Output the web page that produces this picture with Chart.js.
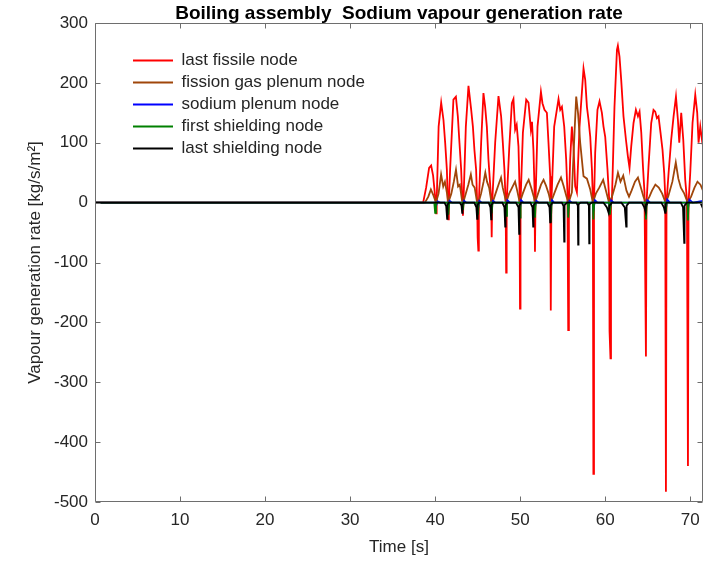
<!DOCTYPE html>
<html><head><meta charset="utf-8">
<script src="https://cdn.jsdelivr.net/npm/chart.js@4"></script>
<style>html,body{margin:0;padding:0;background:#fff}canvas{display:block}</style>
</head><body>
<canvas id="c" width="716" height="562"></canvas>
<script>
const chartTitle = 'Boiling assembly  Sodium vapour generation rate';
const xTitle = 'Time [s]';
const yTitle = 'Vapour generation rate [kg/s/m\u00B2]';
const seriesNames = ['last fissile node', 'fission gas plenum node', 'sodium plenum node', 'first shielding node', 'last shielding node'];
const seriesColors = ['#ff0000', 'rgb(160,70,10)', '#0000ff', '#008000', '#000000'];

const redTime = [0, 38.59, 38.94, 39.29, 39.53, 39.76, 40.00, 40.08, 40.12, 40.18,
  40.41, 40.71, 40.98, 41.18, 41.38, 41.49, 41.55, 41.61,
  41.76, 42.15, 42.44, 42.67, 42.86, 43.06, 43.21, 43.27, 43.33,
  43.61, 43.92, 44.24, 44.44, 44.62, 44.82, 44.94, 45.00, 45.08, 45.14,
  45.41, 45.68, 45.88, 46.08, 46.27, 46.59, 46.65, 46.71,
  47.06, 47.45, 47.76, 47.96, 48.15, 48.29, 48.35, 48.41,
  48.71, 49.02, 49.21, 49.41, 49.59, 49.80, 49.92, 49.98, 50.04,
  50.32, 50.71, 50.98, 51.26, 51.39, 51.56, 51.68, 51.74, 51.80,
  52.04, 52.44, 52.62, 52.86, 53.14, 53.33, 53.53, 53.60, 53.67,
  54.00, 54.51, 54.71, 54.91, 55.18, 55.41, 55.56, 55.65, 55.73,
  55.88, 56.08, 56.27, 56.47, 56.67,
  56.98, 57.45, 57.65, 57.85, 58.04, 58.24, 58.44, 58.55, 58.61, 58.68,
  58.82, 59.09, 59.33, 59.61, 59.80, 60.00, 60.27, 60.47, 60.51, 60.62, 60.68,
  60.79, 61.09, 61.38, 61.49, 61.68, 61.88, 62.15, 62.44, 62.67, 62.86, 63.06, 63.33, 63.61, 63.85, 64.04, 64.24, 64.44, 64.62, 64.79, 64.86,
  65.09, 65.41, 65.68, 65.88, 66.08, 66.27, 66.51, 66.74, 66.94, 67.06, 67.14, 67.21,
  67.45, 67.76, 68.04, 68.32, 68.55, 68.71, 68.94, 69.18, 69.41, 69.61, 69.73, 69.80,
  70.00, 70.27, 70.59, 70.82, 70.98, 71.18, 71.38, 71.56];
const redRate = [0, 0, 25, 58, 62, 45, 10, 0, -18, 0,
  127, 167, 138, 100, 55, 0, -28, 0,
  55, 172, 177, 144, 100, 55, 0, -22, 0,
  127, 195, 155, 127, 88, 55, 0, -58, -80, 0,
  100, 183, 160, 127, 72, 5, -58, 0,
  100, 178, 144, 100, 55, 0, -117, 0,
  90, 166, 173, 122, 130, 94, 27, -177, 0,
  117, 172, 167, 122, 135, 88, 27, -82, 0,
  127, 185, 166, 155, 150, 100, 44, -180, 0,
  127, 173, 155, 160, 127, 72, 17, -213, 0,
  72, 127, 94, 27, 17,
  127, 224, 205, 160, 138, 110, 55, 5, -453, 0,
  83, 155, 169, 150, 127, 110, 55, 5, -215, -260, 0,
  5, 160, 255, 262, 244, 205, 144, 105, 77, 58, 94, 133, 155, 144, 152, 117, 60, 17, -257, 0,
  60, 133, 155, 152, 141, 144, 116, 88, 49, 10, -483, 0,
  49, 105, 144, 177, 138, 100, 150, 105, 38, 5, -440, 0,
  50, 133, 180, 150, 100, 127, 105, 117];

const brownTime = [0, 38.8, 39.2, 39.5, 39.8, 40.1,
  40.4, 40.7, 40.95, 41.15, 41.4, 41.55,
  41.9, 42.2, 42.45, 42.7, 42.9, 43.15, 43.3,
  43.6, 43.9, 44.2, 44.4, 44.65, 44.9, 45.1,
  45.4, 45.7, 45.9, 46.1, 46.35, 46.6, 46.75,
  47.1, 47.45, 47.75, 47.95, 48.2, 48.35,
  48.7, 49.05, 49.4, 49.65, 49.95,
  50.3, 50.7, 51.0, 51.3, 51.6, 51.75,
  52.1, 52.45, 52.75, 53.05, 53.35, 53.6,
  54.0, 54.4, 54.8, 55.1, 55.45, 55.7,
  56.08, 56.4, 56.59, 56.8, 57.06, 57.45, 57.85, 58.24, 58.55,
  58.9, 59.3, 59.76, 60.0, 60.45,
  60.8, 61.2, 61.5, 61.8, 62.12, 62.5, 62.8, 63.1, 63.5, 63.85, 64.1, 64.5, 64.8,
  65.2, 65.5, 65.9, 66.3, 66.7, 67.1,
  67.4, 67.9, 68.3, 68.6, 68.9, 69.3, 69.7,
  70.1, 70.5, 70.85, 71.2, 71.5];
const brownRate = [0, 0, 10, 22, 12, 0,
  15, 47, 27, 35, 15, 0,
  15, 35, 55, 27, 30, 5, 0,
  15, 30, 47, 30, 25, 3, 0,
  15, 35, 50, 35, 25, 2, 0,
  15, 30, 42, 25, 10, 0,
  15, 25, 35, 20, 0,
  15, 30, 38, 25, 10, 0,
  15, 30, 38, 28, 15, 0,
  15, 30, 42, 28, 10, 0,
  17, 120, 177, 150, 100, 44, 40, 22, 0,
  15, 25, 38, 25, 0,
  10, 30, 50, 35, 45, 20, 10, 20, 35, 42, 30, 10, 0,
  10, 20, 30, 25, 15, 0,
  10, 35, 67, 40, 25, 15, 0,
  10, 25, 35, 30, 20];

const blueTime = [0, 40.0, 40.12, 40.3, 40.6,
  41.5, 41.55, 41.7, 42.0, 43.2, 43.27, 43.4, 43.7, 44.95, 45.05, 45.2, 45.5,
  46.6, 46.65, 46.8, 47.1, 48.3, 48.35, 48.5, 48.8, 49.95, 49.98, 50.1, 50.4,
  51.7, 51.74, 51.9, 52.2, 53.55, 53.6, 53.75, 54.0, 55.6, 55.65, 55.8, 56.1,
  58.55, 58.61, 58.8, 59.1, 60.45, 60.55, 60.7, 61.0, 64.75, 64.79, 64.95, 65.3,
  67.1, 67.14, 67.3, 67.6, 69.7, 69.73, 69.9, 70.3, 71.5];
const blueRate = [0, 0, -5, 2, 0,
  0, -8, 3, 0, 0, -6, 3, 0, 0, -10, 3, 0,
  0, -8, 3, 0, 0, -10, 4, 0, 0, -10, 4, 0,
  0, -8, 3, 0, 0, -10, 4, 0, 0, -10, 3, 0,
  0, -12, 4, 0, 0, -10, 4, 0, 0, -10, 4, 0,
  0, -10, 5, 0, 0, -10, 5, 0, 3];

const greenTime = [0, 39.9, 40.0, 40.1, 41.45, 41.55, 41.65, 43.2, 43.27, 43.35,
  44.95, 45.03, 45.12, 46.6, 46.65, 46.75, 48.3, 48.35, 48.45, 49.93, 49.98, 50.05,
  51.7, 51.74, 51.82, 53.55, 53.6, 53.7, 55.6, 55.65, 55.75, 58.55, 58.61, 58.7,
  60.45, 60.55, 60.68, 64.72, 64.79, 64.88, 67.08, 67.14, 67.22, 69.68, 69.73, 69.8, 71.5];
const greenRate = [0, 0, -17, 0, 0, -20, 0, 0, -12, 0,
  0, -20, 0, 0, -18, 0, 0, -22, 0, 0, -25, 0,
  0, -25, 0, 0, -33, 0, 0, -25, 0, 0, -28, 0,
  0, -20, 0, 0, -28, 0, 0, -15, 0, 0, -30, 0, 0];

const blackTime = [0,
  41.1, 41.3, 41.41, 41.45, 41.6,
  42.9, 43.1, 43.18, 43.22, 43.35,
  44.6, 44.85, 44.94, 44.99, 45.15,
  46.3, 46.5, 46.59, 46.63, 46.8,
  47.9, 48.15, 48.24, 48.28, 48.45,
  49.5, 49.8, 49.88, 49.92, 50.1,
  51.2, 51.45, 51.53, 51.57, 51.8,
  53.2, 53.45, 53.53, 53.58, 53.8,
  54.9, 55.1, 55.18, 55.22, 55.5,
  56.6, 56.78, 56.82, 56.86, 57.1,
  57.9, 58.08, 58.12, 58.16, 58.4,
  59.8, 60.2, 60.4, 60.5, 60.8,
  61.9, 62.3, 62.47, 62.52, 62.8,
  64.3, 64.6, 64.75, 64.8, 64.9,
  66.6, 66.9, 67.05, 67.1, 67.2,
  68.9, 69.15, 69.29, 69.33, 69.6,
  71.2, 71.35, 71.5];
const blackRate = [0,
  0, -6, -27, -4, 0,
  0, -5, -17, -3, 0,
  0, -8, -27, -4, 0,
  0, -8, -28, -4, 0,
  0, -8, -40, -5, 0,
  0, -8, -52, -5, 0,
  0, -8, -40, -5, 0,
  0, -8, -33, -5, 0,
  0, -6, -65, -4, 0,
  0, -5, -70, -3, 0,
  0, -5, -68, -3, 0,
  0, -8, -17, -5, 0,
  0, -8, -40, -5, 0,
  0, -8, -15, -3, 0,
  0, -8, -17, -3, 0,
  0, -8, -67, -5, 0,
  0, -5, -10];

const xMin = 0, xMax = 71.5, xStep = 10;
const yMin = -500, yMax = 300, yStep = 100;

const axisColor = '#6e6e6e';
const textColor = '#262626';

function pts(t, v) { return t.map((x, i) => ({x: x, y: v[i]})); }
const allSeries = [[redTime, redRate], [brownTime, brownRate], [blueTime, blueRate], [greenTime, greenRate], [blackTime, blackRate]];

Chart.defaults.font.family = "'Liberation Sans', Arial, Helvetica, sans-serif";
Chart.defaults.color = textColor;

const matlabAxes = {
  id: 'matlabAxes',
  afterDatasetsDraw(chart) {
    const {ctx, chartArea: a, scales} = chart;
    const xs = scales.x, ys = scales.y;
    const L = Math.round(a.left) + 0.5, R = Math.round(a.right) - 0.5;
    const T = Math.round(a.top) + 0.5, B = Math.round(a.bottom) - 0.5;
    ctx.save();
    ctx.strokeStyle = axisColor;
    ctx.lineWidth = 1;
    ctx.beginPath();
    ctx.rect(L, T, R - L, B - T);
    const len = 5;
    xs.ticks.forEach(t => {
      const p = Math.round(xs.getPixelForValue(t.value)) + 0.5;
      ctx.moveTo(p, B); ctx.lineTo(p, B - len);
      ctx.moveTo(p, T); ctx.lineTo(p, T + len);
    });
    ys.ticks.forEach(t => {
      const p = Math.round(ys.getPixelForValue(t.value)) + 0.5;
      ctx.moveTo(L, p); ctx.lineTo(L + len, p);
      ctx.moveTo(R, p); ctx.lineTo(R - len, p);
    });
    ctx.stroke();
    ctx.restore();
  }
};

const legendPlace = {
  id: 'legendPlace',
  afterLayout(chart) {
    const l = chart.legend, a = chart.chartArea;
    if (!l) return;
    l.left = a.left + 33;
    l.top = a.top + 24;
  }
};

new Chart(document.getElementById('c'), {
  type: 'line',
  data: {
    datasets: allSeries.map((s, i) => ({
      label: seriesNames[i],
      data: pts(s[0], s[1]),
      borderColor: seriesColors[i],
      backgroundColor: seriesColors[i],
      borderWidth: 1.8,
      pointRadius: 0,
      tension: 0,
      fill: false,
      order: allSeries.length - i
    }))
  },
  options: {
    responsive: false,
    animation: false,
    events: [],
    layout: {padding: {left: 0, right: 13, top: 0, bottom: 0}},
    scales: {
      x: {
        type: 'linear', min: xMin, max: xMax,
        ticks: {stepSize: xStep, includeBounds: false, padding: 8, font: {size: 17}, color: textColor, maxRotation: 0},
        grid: {display: false, drawTicks: false},
        border: {display: false},
        title: {display: true, text: xTitle, font: {size: 17}, color: textColor, padding: {top: 0, bottom: 4}},
        afterFit(s) { s.height = 60; }
      },
      y: {
        type: 'linear', min: yMin, max: yMax,
        ticks: {stepSize: yStep, padding: 7, font: {size: 17}, color: textColor},
        grid: {display: false, drawTicks: false},
        border: {display: false},
        title: {display: true, text: yTitle, font: {size: 17}, color: textColor, padding: {top: 25, bottom: 0}},
        afterFit(s) { s.width = 95; }
      }
    },
    plugins: {
      title: {
        display: true, text: chartTitle, fullSize: false,
        font: {size: 19, weight: 'bold', lineHeight: 1}, color: '#000',
        padding: {top: 4, bottom: 0}
      },
      legend: {
        display: true, position: 'chartArea', align: 'start',
        labels: {
          boxWidth: 40, boxHeight: 0, padding: 5,
          font: {size: 17}, color: textColor,
          sort: (a, b) => a.datasetIndex - b.datasetIndex
        }
      },
      tooltip: {enabled: false}
    }
  },
  plugins: [matlabAxes, legendPlace]
});
</script>
</body></html>
